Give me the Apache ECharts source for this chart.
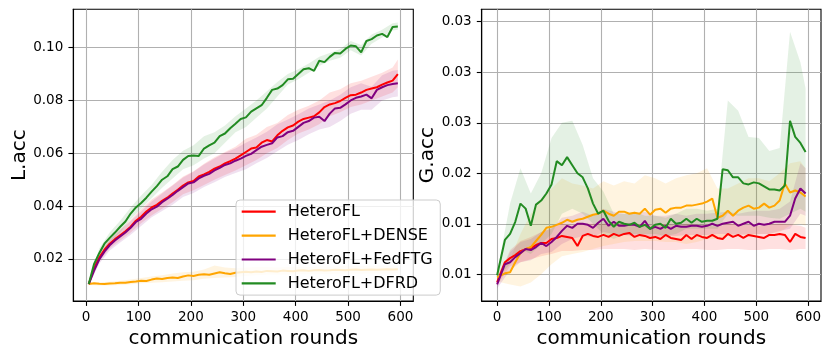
<!DOCTYPE html>
<html><head><meta charset="utf-8">
<script src="https://cdn.jsdelivr.net/npm/echarts@6/dist/echarts.min.js"></script>
<style>html,body{margin:0;padding:0;background:#fff}#c{width:831px;height:358px}</style>
</head><body><div id="c"></div>
<script>
// ---------------- data ----------------
const SERIES_NAMES = ['HeteroFL', 'HeteroFL+DENSE', 'HeteroFL+FedFTG', 'HeteroFL+DFRD'];

const X_TICKS = [0, 100, 200, 300, 400, 500, 600];
const X_TICK_LABELS = ['0', '100', '200', '300', '400', '500', '600'];
const L_TICKS = [0.02, 0.04, 0.06, 0.08, 0.10];
const L_TICK_LABELS = ['0.02', '0.04', '0.06', '0.08', '0.10'];
const G_TICKS = [0.010, 0.015, 0.020, 0.025, 0.030, 0.035];
const G_TICK_LABELS = ['0.01', '0.01', '0.02', '0.03', '0.03', '0.03'];

const ROUNDS_L = [5,15,25,35,45,55,65,75,85,95,105,115,125,135,145,155,165,175,185,195,
  205,215,225,235,245,255,265,275,285,295,305,315,325,335,345,355,365,375,385,395,
  405,415,425,435,445,455,465,475,485,495,505,515,525,535,545,555,565,575,585,595];
const ROUNDS_G = [0,15,25,35,45,55,65,75,85,95,105,115,125,135,145,155,165,175,185,195,
  205,215,225,235,245,255,265,275,285,295,305,315,325,335,345,355,365,375,385,395,
  405,415,425,435,445,455,465,475,485,495,505,515,525,535,545,555,565,575,585,595];

const L_HETEROFL = [0.0105,0.0165,0.0205,0.0235,0.0258,0.0275,0.0290,0.0305,0.0322,0.0345,
  0.0360,0.0380,0.0395,0.0405,0.0420,0.0432,0.0448,0.0462,0.0478,0.0490,
  0.0495,0.0512,0.0520,0.0530,0.0542,0.0550,0.0562,0.0570,0.0580,0.0592,
  0.0605,0.0618,0.0622,0.0640,0.0650,0.0645,0.0668,0.0685,0.0698,0.0705,
  0.0720,0.0730,0.0735,0.0740,0.0755,0.0775,0.0785,0.0790,0.0798,0.0810,
  0.0820,0.0822,0.0830,0.0840,0.0845,0.0850,0.0860,0.0868,0.0875,0.0900];
const L_DENSE = [0.0105,0.0108,0.0106,0.0105,0.0107,0.0108,0.0110,0.0110,0.0113,0.0115,
  0.0118,0.0117,0.0122,0.0126,0.0124,0.0128,0.0130,0.0128,0.0134,0.0138,
  0.0136,0.0140,0.0142,0.0140,0.0145,0.0150,0.0146,0.0143,0.0148,0.0150,
  0.0152,0.0150,0.0153,0.0151,0.0155,0.0154,0.0153,0.0156,0.0155,0.0154,
  0.0156,0.0157,0.0155,0.0157,0.0158,0.0156,0.0157,0.0159,0.0158,0.0157,
  0.0159,0.0160,0.0158,0.0159,0.0160,0.0159,0.0160,0.0161,0.0160,0.0161];
const L_FEDFTG = [0.0105,0.0155,0.0198,0.0228,0.0252,0.0270,0.0285,0.0300,0.0318,0.0340,
  0.0352,0.0372,0.0388,0.0398,0.0415,0.0428,0.0442,0.0458,0.0472,0.0486,
  0.0490,0.0505,0.0515,0.0522,0.0535,0.0545,0.0556,0.0562,0.0572,0.0580,
  0.0590,0.0598,0.0612,0.0625,0.0632,0.0638,0.0660,0.0665,0.0680,0.0685,
  0.0700,0.0715,0.0722,0.0735,0.0738,0.0722,0.0750,0.0770,0.0772,0.0785,
  0.0800,0.0810,0.0815,0.0822,0.0808,0.0840,0.0850,0.0858,0.0862,0.0865];
const L_DFRD = [0.0105,0.0180,0.0222,0.0258,0.0280,0.0300,0.0322,0.0342,0.0372,0.0395,
  0.0412,0.0432,0.0455,0.0476,0.0500,0.0513,0.0540,0.0550,0.0575,0.0590,
  0.0592,0.0590,0.0618,0.0630,0.0640,0.0665,0.0675,0.0695,0.0712,0.0730,
  0.0736,0.0758,0.0770,0.0782,0.0810,0.0840,0.0845,0.0858,0.0880,0.0882,
  0.0900,0.0918,0.0922,0.0912,0.0950,0.0945,0.0965,0.0980,0.0978,0.0995,
  0.1008,0.1005,0.0982,0.1025,0.1032,0.1046,0.1052,0.1040,0.1078,0.1080];

const G_HETEROFL = [0.0092,0.0112,0.0116,0.0119,0.0123,0.0125,0.0126,0.0129,0.0131,0.0131,
  0.0135,0.0136,0.0138,0.0137,0.0136,0.0128,0.0138,0.0140,0.0138,0.0137,
  0.0139,0.0137,0.0140,0.0138,0.0140,0.0141,0.0137,0.0139,0.0138,0.0136,
  0.0137,0.0135,0.0139,0.0136,0.0135,0.0134,0.0139,0.0135,0.0139,0.0137,
  0.0136,0.0139,0.0136,0.0135,0.0140,0.0137,0.0139,0.0136,0.0139,0.0138,
  0.0137,0.0136,0.0139,0.0139,0.0140,0.0139,0.0132,0.0140,0.0137,0.0136];
const G_DENSE = [0.0097,0.0101,0.0102,0.0112,0.0121,0.0125,0.0127,0.0133,0.0139,0.0146,
  0.0147,0.0149,0.0151,0.0154,0.0152,0.0154,0.0155,0.0157,0.0159,0.0160,
  0.0163,0.0160,0.0158,0.0162,0.0162,0.0160,0.0161,0.0160,0.0165,0.0159,
  0.0164,0.0165,0.0161,0.0165,0.0166,0.0166,0.0168,0.0168,0.0169,0.0170,
  0.0172,0.0175,0.0156,0.0158,0.0163,0.0158,0.0163,0.0166,0.0168,0.0165,
  0.0166,0.0170,0.0166,0.0168,0.0173,0.0190,0.0181,0.0183,0.0181,0.0177];
const G_FEDFTG = [0.0090,0.0110,0.0112,0.0117,0.0121,0.0125,0.0124,0.0127,0.0131,0.0128,
  0.0132,0.0137,0.0143,0.0148,0.0146,0.0150,0.0150,0.0149,0.0146,0.0151,
  0.0155,0.0148,0.0152,0.0148,0.0148,0.0149,0.0149,0.0147,0.0153,0.0145,
  0.0147,0.0145,0.0148,0.0145,0.0148,0.0147,0.0147,0.0148,0.0148,0.0147,
  0.0148,0.0150,0.0148,0.0150,0.0151,0.0152,0.0148,0.0150,0.0152,0.0148,
  0.0150,0.0149,0.0150,0.0152,0.0152,0.0152,0.0158,0.0175,0.0185,0.0180];
const G_DFRD = [0.0099,0.0134,0.0140,0.0152,0.0170,0.0165,0.0148,0.0169,0.0173,0.0180,
  0.0189,0.0212,0.0208,0.0216,0.0208,0.0200,0.0196,0.0185,0.0170,0.0160,
  0.0163,0.0153,0.0147,0.0152,0.0150,0.0149,0.0151,0.0147,0.0149,0.0145,
  0.0149,0.0150,0.0146,0.0155,0.0150,0.0151,0.0155,0.0151,0.0155,0.0152,
  0.0153,0.0153,0.0155,0.0204,0.0203,0.0196,0.0196,0.0190,0.0189,0.0191,
  0.0190,0.0187,0.0184,0.0184,0.0183,0.0188,0.0252,0.0236,0.0230,0.0221];

// shaded bands (lower / upper), sampled every 20 rounds
const BAND_ROUNDS_L = [5,25,45,65,85,105,125,145,165,185,205,225,245,265,285,305,325,345,365,385,
  405,425,445,465,485,505,525,545,565,585,595];
const BAND_ROUNDS_G = [0,25,45,65,85,105,125,145,165,185,205,225,245,265,285,305,325,345,365,385,
  405,425,445,465,485,505,525,545,565,585,595];

const LB_HETEROFL_LO = [0.0100,0.0190,0.0240,0.0270,0.0300,0.0335,0.0365,0.0390,0.0415,0.0445,0.0460,0.0480,0.0500,0.0518,0.0535,0.0555,0.0575,0.0600,0.0620,0.0650,0.0675,0.0690,0.0710,0.0740,0.0755,0.0775,0.0785,0.0800,0.0815,0.0830,0.0850];
const LB_HETEROFL_HI = [0.0110,0.0222,0.0280,0.0312,0.0348,0.0388,0.0425,0.0452,0.0480,0.0512,0.0532,0.0560,0.0585,0.0605,0.0625,0.0655,0.0670,0.0700,0.0715,0.0745,0.0765,0.0780,0.0800,0.0830,0.0842,0.0865,0.0875,0.0890,0.0905,0.0925,0.0955];
const LB_DENSE_LO = [0.0102,0.0100,0.0100,0.0102,0.0104,0.0108,0.0110,0.0112,0.0115,0.0118,0.0120,0.0125,0.0128,0.0130,0.0132,0.0136,0.0138,0.0140,0.0140,0.0141,0.0142,0.0142,0.0143,0.0143,0.0144,0.0144,0.0144,0.0145,0.0145,0.0145,0.0146];
const LB_DENSE_HI = [0.0108,0.0112,0.0114,0.0118,0.0122,0.0128,0.0134,0.0138,0.0145,0.0150,0.0152,0.0160,0.0175,0.0168,0.0165,0.0168,0.0170,0.0170,0.0168,0.0170,0.0171,0.0170,0.0172,0.0172,0.0173,0.0174,0.0173,0.0174,0.0175,0.0175,0.0176];
const LB_FEDFTG_LO = [0.0100,0.0182,0.0232,0.0262,0.0292,0.0325,0.0358,0.0382,0.0405,0.0435,0.0450,0.0472,0.0490,0.0510,0.0525,0.0540,0.0562,0.0582,0.0608,0.0632,0.0650,0.0672,0.0690,0.0700,0.0722,0.0750,0.0765,0.0765,0.0800,0.0812,0.0815];
const LB_FEDFTG_HI = [0.0110,0.0215,0.0272,0.0308,0.0344,0.0380,0.0418,0.0448,0.0478,0.0508,0.0530,0.0558,0.0580,0.0602,0.0618,0.0640,0.0660,0.0682,0.0710,0.0728,0.0748,0.0770,0.0785,0.0800,0.0822,0.0850,0.0865,0.0852,0.0895,0.0912,0.0915];
const LB_DFRD_LO = [0.0100,0.0205,0.0262,0.0300,0.0350,0.0390,0.0430,0.0470,0.0505,0.0540,0.0555,0.0580,0.0600,0.0640,0.0680,0.0700,0.0735,0.0770,0.0815,0.0860,0.0880,0.0905,0.0930,0.0950,0.0962,0.0990,0.0970,0.1015,0.1038,0.1065,0.1068];
const LB_DFRD_HI = [0.0110,0.0240,0.0300,0.0345,0.0395,0.0440,0.0480,0.0530,0.0575,0.0610,0.0630,0.0665,0.0680,0.0705,0.0740,0.0770,0.0800,0.0835,0.0870,0.0900,0.0918,0.0940,0.0965,0.0980,0.0995,0.1025,0.1010,0.1050,0.1068,0.1092,0.1095];

const GB_HETEROFL_LO = [0.0089,0.0108,0.0112,0.0115,0.0118,0.0120,0.0123,0.0123,0.0124,0.0124,0.0125,0.0125,0.0125,0.0124,0.0125,0.0124,0.0124,0.0124,0.0125,0.0125,0.0124,0.0124,0.0125,0.0125,0.0124,0.0124,0.0125,0.0125,0.0124,0.0125,0.0125];
const GB_HETEROFL_HI = [0.0095,0.0124,0.0133,0.0137,0.0142,0.0146,0.0150,0.0148,0.0150,0.0150,0.0150,0.0152,0.0151,0.0150,0.0149,0.0148,0.0150,0.0148,0.0150,0.0149,0.0148,0.0147,0.0150,0.0149,0.0149,0.0148,0.0149,0.0150,0.0149,0.0148,0.0146];
const GB_DENSE_LO = [0.0093,0.0090,0.0088,0.0092,0.0100,0.0110,0.0118,0.0120,0.0122,0.0125,0.0128,0.0130,0.0132,0.0133,0.0133,0.0133,0.0132,0.0132,0.0130,0.0132,0.0135,0.0135,0.0138,0.0140,0.0138,0.0140,0.0140,0.0142,0.0148,0.0150,0.0148];
const GB_DENSE_HI = [0.0101,0.0115,0.0140,0.0160,0.0175,0.0185,0.0195,0.0190,0.0188,0.0185,0.0192,0.0188,0.0192,0.0190,0.0198,0.0195,0.0190,0.0195,0.0198,0.0200,0.0205,0.0185,0.0185,0.0190,0.0195,0.0195,0.0192,0.0200,0.0210,0.0212,0.0205];
const GB_FEDFTG_LO = [0.0086,0.0104,0.0112,0.0114,0.0120,0.0122,0.0130,0.0135,0.0138,0.0137,0.0142,0.0140,0.0139,0.0138,0.0138,0.0137,0.0138,0.0138,0.0139,0.0139,0.0139,0.0140,0.0140,0.0139,0.0140,0.0140,0.0140,0.0143,0.0145,0.0160,0.0158];
const GB_FEDFTG_HI = [0.0094,0.0122,0.0132,0.0135,0.0142,0.0145,0.0156,0.0158,0.0162,0.0158,0.0165,0.0162,0.0160,0.0160,0.0162,0.0158,0.0158,0.0160,0.0158,0.0160,0.0160,0.0161,0.0162,0.0160,0.0162,0.0163,0.0163,0.0165,0.0172,0.0210,0.0205];
const GB_DFRD_LO = [0.0096,0.0110,0.0125,0.0120,0.0130,0.0140,0.0160,0.0165,0.0160,0.0150,0.0140,0.0135,0.0140,0.0140,0.0140,0.0140,0.0138,0.0140,0.0145,0.0145,0.0145,0.0145,0.0160,0.0158,0.0158,0.0158,0.0156,0.0155,0.0160,0.0165,0.0162];
const GB_DFRD_HI = [0.0102,0.0170,0.0205,0.0180,0.0200,0.0235,0.0250,0.0252,0.0228,0.0195,0.0182,0.0160,0.0160,0.0162,0.0158,0.0158,0.0156,0.0160,0.0165,0.0165,0.0163,0.0165,0.0272,0.0262,0.0236,0.0235,0.0222,0.0225,0.0340,0.0310,0.0284];

// ---------------- chart ----------------
const FONT = 'DejaVu Sans';
const COLORS = ['#ff0000', '#ffa500', '#800080', '#228b22'];
const L_LINES = [L_HETEROFL, L_DENSE, L_FEDFTG, L_DFRD];
const G_LINES = [G_HETEROFL, G_DENSE, G_FEDFTG, G_DFRD];
const L_BANDS = [[LB_HETEROFL_LO, LB_HETEROFL_HI], [LB_DENSE_LO, LB_DENSE_HI], [LB_FEDFTG_LO, LB_FEDFTG_HI], [LB_DFRD_LO, LB_DFRD_HI]];
const G_BANDS = [[GB_HETEROFL_LO, GB_HETEROFL_HI], [GB_DENSE_LO, GB_DENSE_HI], [GB_FEDFTG_LO, GB_FEDFTG_HI], [GB_DFRD_LO, GB_DFRD_HI]];

function pairs(xs, ys) { return xs.map((x, i) => [x, ys[i]]); }
function labelFor(ticks, labels) {
  return function (v) {
    const i = ticks.findIndex(t => Math.abs(t - v) < 1e-9);
    return i < 0 ? '' : labels[i];
  };
}
function bandSeries(name, xs, lo, hi, color, gi) {
  return {
    type: 'custom', name: name + ' band', xAxisIndex: gi, yAxisIndex: gi,
    silent: true, z: 1, data: [[xs[0], lo[0]]],
    renderItem: function (params, api) {
      const pts = [];
      for (let i = 0; i < xs.length; i++) pts.push(api.coord([xs[i], hi[i]]));
      for (let i = xs.length - 1; i >= 0; i--) pts.push(api.coord([xs[i], lo[i]]));
      return { type: 'polygon', shape: { points: pts }, style: { fill: color, opacity: 0.12 } };
    }
  };
}
function lineSeries(name, xs, ys, color, gi) {
  return {
    type: 'line', name: name, xAxisIndex: gi, yAxisIndex: gi, data: pairs(xs, ys),
    symbol: 'none', showSymbol: false, z: 2,
    lineStyle: { color: color, width: 2 }, itemStyle: { color: color }
  };
}

const series = [];
SERIES_NAMES.forEach((n, k) => {
  series.push(bandSeries(n, BAND_ROUNDS_L, L_BANDS[k][0], L_BANDS[k][1], COLORS[k], 0));
  series.push(bandSeries(n, BAND_ROUNDS_G, G_BANDS[k][0], G_BANDS[k][1], COLORS[k], 1));
});
SERIES_NAMES.forEach((n, k) => {
  series.push(lineSeries(n, ROUNDS_L, L_LINES[k], COLORS[k], 0));
  series.push(lineSeries(n, ROUNDS_G, G_LINES[k], COLORS[k], 1));
});

const axisLineStyle = { show: true, onZero: false, lineStyle: { color: '#000', width: 1.1 } };
const splitLineStyle = { show: true, lineStyle: { color: '#b0b0b0', width: 1.1 } };
const nameStyle = { fontFamily: FONT, fontSize: 20, color: '#000' };

function xAxisDef(gi, min, max) {
  return {
    gridIndex: gi, type: 'value', min: min, max: max,
    name: 'communication rounds', nameLocation: 'middle', nameGap: 27, nameTextStyle: nameStyle,
    axisLine: axisLineStyle,
    axisTick: { show: true, inside: false, length: 4.9, lineStyle: { color: '#000', width: 1.1 }, customValues: X_TICKS },
    axisLabel: { customValues: X_TICKS, formatter: labelFor(X_TICKS, X_TICK_LABELS), fontFamily: FONT, fontSize: 13.5, color: '#000', margin: 9 },
    splitLine: splitLineStyle
  };
}
function yAxisDef(gi, min, max, name, ticks, labels) {
  return {
    gridIndex: gi, type: 'value', min: min, max: max,
    name: name, nameLocation: 'middle', nameGap: 42, nameTextStyle: nameStyle,
    axisLine: axisLineStyle,
    axisTick: { show: true, inside: false, length: 4.9, lineStyle: { color: '#000', width: 1.1 }, customValues: ticks },
    axisLabel: { customValues: ticks, formatter: labelFor(ticks, labels), fontFamily: FONT, fontSize: 13.5, color: '#000', margin: 10 },
    splitLine: splitLineStyle
  };
}

const chart = echarts.init(document.getElementById('c'));
chart.setOption({
  animation: false,
  backgroundColor: '#fff',
  grid: [
    { left: 73.3, top: 9.3, width: 340, height: 291.7, show: true, borderColor: '#000', borderWidth: 1.1 },
    { left: 481.7, top: 9.3, width: 339.3, height: 291.7, show: true, borderColor: '#000', borderWidth: 1.1 }
  ],
  xAxis: [xAxisDef(0, -24.5, 624.5), xAxisDef(1, -29.75, 624.75)],
  yAxis: [
    yAxisDef(0, 0.0041, 0.1145, 'L.acc', L_TICKS, L_TICK_LABELS),
    yAxisDef(1, 0.00736, 0.03623, 'G.acc', G_TICKS, G_TICK_LABELS)
  ],
  legend: {
    data: SERIES_NAMES.slice(),
    orient: 'vertical', left: 236, top: 200,
    icon: 'rect', itemWidth: 34, itemHeight: 2.2, itemGap: 4.9,
    padding: [2.2, 7.6, 2.2, 5.7],
    backgroundColor: 'rgba(255,255,255,0.8)', borderColor: '#cccccc', borderWidth: 1, borderRadius: 4,
    textStyle: { fontFamily: FONT, fontSize: 16, color: '#000', lineHeight: 19, padding: [0, 0, 0, 7] },
    selectedMode: false, z: 10
  },
  series: series
});
</script></body></html>
